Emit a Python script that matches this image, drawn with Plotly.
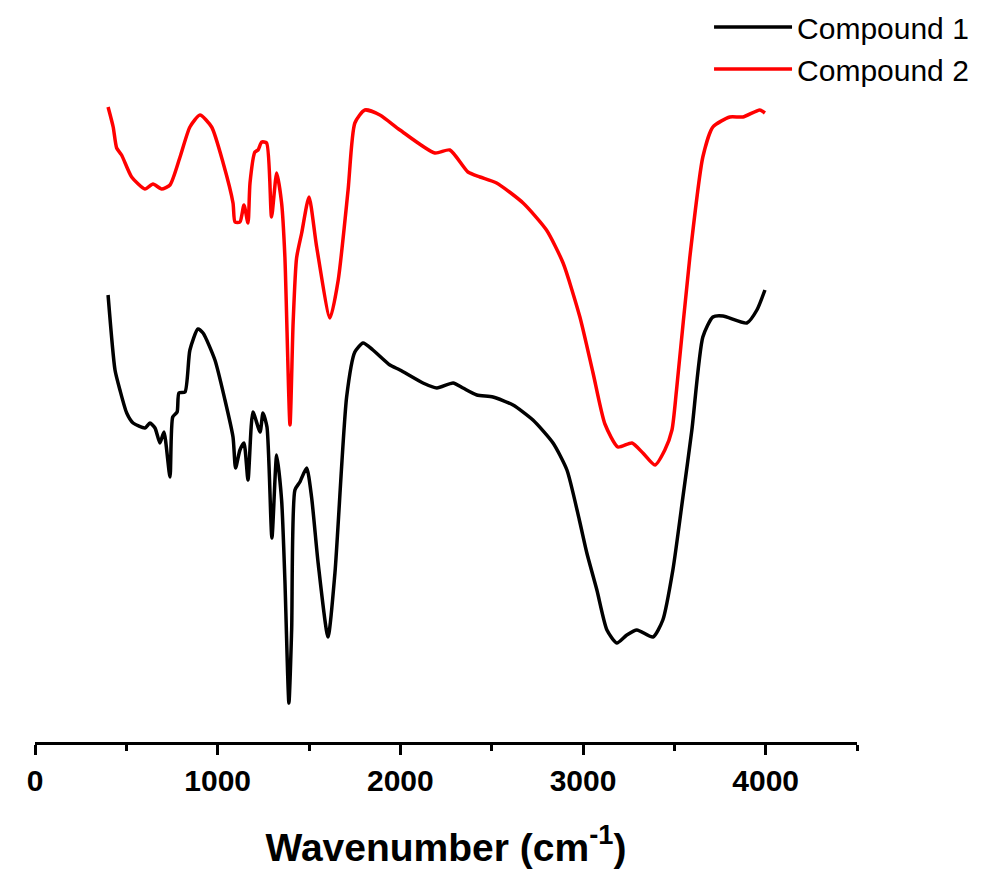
import plotly.graph_objects as go

# Wavenumbers (cm^-1) and transmittance (arbitrary units, curves offset)
wn_c1 = [400, 438, 465, 502, 537, 602, 629, 657, 684, 706, 739, 754, 778, 788, 821,
         848, 892, 920, 985, 1040, 1084, 1098, 1122, 1144, 1166, 1193, 1232, 1248,
         1270, 1297, 1323, 1350, 1368, 1390, 1405, 1423, 1450, 1487, 1514, 1550,
         1604, 1642, 1706, 1751, 1796, 1850, 1943, 1998, 2124, 2200, 2289, 2343,
         2419, 2507, 2617, 2726, 2836, 2912, 2980, 3021, 3076, 3131, 3185, 3240,
         3295, 3383, 3437, 3492, 3547, 3596, 3656, 3711, 3766, 3897, 3952, 3996]
t_c1 = [447, 372, 352, 329, 319, 314, 319, 314, 299, 310, 265, 325, 330, 349, 350,
        392, 413, 409, 382, 342, 305, 274, 292, 299, 262, 330, 310, 329,
        315, 204, 287, 242, 162, 39, 112, 252, 260, 274, 245, 179,
        105, 169, 345, 390, 399, 392, 377, 372, 359, 354, 359, 354,
        347, 345, 337, 322, 299, 272, 222, 189, 152, 112, 99, 107,
        112, 105, 122, 172, 245, 312, 405, 425, 426, 419, 432, 452]

wn_c2 = [400, 428, 447, 474, 529, 602, 646, 693, 739, 794, 848, 903, 967, 1030,
         1084, 1095, 1122, 1144, 1166, 1177, 1204, 1221, 1241, 1268, 1295, 1323,
         1350, 1368, 1396, 1413, 1432, 1460, 1500, 1542, 1615, 1660, 1714, 1751,
         1806, 1888, 1998, 2189, 2271, 2370, 2436, 2527, 2672, 2800, 2891, 2983,
         3055, 3120, 3191, 3268, 3328, 3394, 3448, 3487, 3512, 3585, 3656, 3711,
         3804, 3875, 3968, 3996]
t_c2 = [635, 615, 594, 587, 565, 553, 558, 553, 557, 585, 615, 627, 615, 579,
        539, 520, 520, 537, 519, 559, 590, 592, 600, 599, 525, 569,
        539, 485, 317, 419, 484, 509, 545, 495, 424, 462, 552, 619,
        632, 627, 612, 589, 592, 570, 565, 559, 539, 512, 479, 425,
        369, 318, 295, 299, 289, 277, 292, 312, 352, 485, 585, 615,
        625, 625, 632, 629]

series_names = ["Compound 1", "Compound 2"]
series_colors = ["#000000", "#ff0000"]
x_tickvals = [0, 1000, 2000, 3000, 4000]

fig = go.Figure()
for name, wn, t, col in [(series_names[0], wn_c1, t_c1, series_colors[0]),
                         (series_names[1], wn_c2, t_c2, series_colors[1])]:
    fig.add_trace(go.Scatter(x=wn, y=t, mode="lines", name=name,
                             line=dict(color=col, width=3.5, shape="spline", smoothing=0.6)))

fig.update_layout(
    width=982, height=875,
    margin=dict(l=35, r=125, t=40, b=133, autoexpand=False),
    paper_bgcolor="white", plot_bgcolor="white",
    font=dict(family="Liberation Sans, Arial, sans-serif", color="black"),
    showlegend=True,
    legend=dict(x=0.82, y=1.0556, xanchor="left", yanchor="top",
                font=dict(size=30, family="Liberation Sans, Arial, sans-serif"),
                bgcolor="rgba(0,0,0,0)", itemwidth=78, tracegroupgap=0),
    xaxis=dict(range=[0, 4500], tickvals=x_tickvals, showgrid=False, zeroline=False,
               showline=True, linewidth=3, linecolor="black",
               ticks="outside", ticklen=10, tickwidth=3, tickcolor="black",
               minor=dict(dtick=500, tick0=0, ticks="outside", ticklen=6, tickwidth=2.5,
                          tickcolor="black", showgrid=False),
               tickfont=dict(size=30, weight="bold"),
               title=dict(text="Wavenumber (cm<sup>-1</sup>)",
                          font=dict(size=39, weight="bold"), standoff=38),
               automargin=False),
    yaxis=dict(range=[0, 702], visible=False, showgrid=False, zeroline=False),
)

fig.write_html("out.html")
